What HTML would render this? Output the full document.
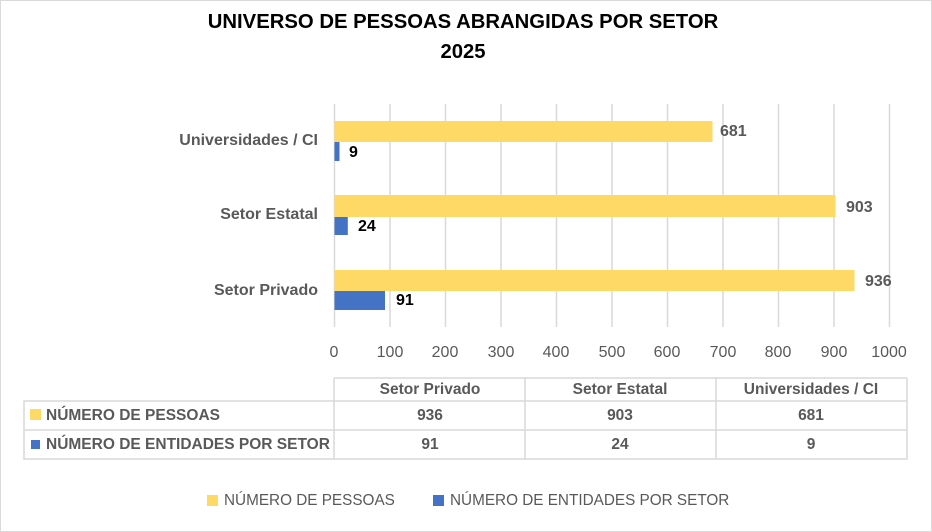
<!DOCTYPE html><html><head><meta charset="utf-8"><style>
body{margin:0;width:932px;height:532px;background:#fff;font-family:"Liberation Sans",sans-serif;position:relative;overflow:hidden}
.a{position:absolute;white-space:nowrap}
.b{font-weight:bold;color:#595959;font-size:15.5px}
.c{transform:translateX(-50%)}
</style></head><body>
<div class="a" style="left:0;top:0;width:930px;height:530px;border:1px solid #d9d9d9"></div>
<div class="a" style="left:0;width:926px;top:7px;text-align:center;font-weight:bold;font-size:20.3px;line-height:30px;color:#000">UNIVERSO DE PESSOAS ABRANGIDAS POR SETOR<br>2025</div>
<svg class="a" style="left:0;top:0" width="932" height="532">
<g stroke="#d9d9d9" stroke-width="1.5">
<line x1="334.5" y1="104" x2="334.5" y2="327"/><line x1="390" y1="104" x2="390" y2="327"/><line x1="445.5" y1="104" x2="445.5" y2="327"/><line x1="501" y1="104" x2="501" y2="327"/><line x1="556.5" y1="104" x2="556.5" y2="327"/><line x1="612" y1="104" x2="612" y2="327"/><line x1="667.5" y1="104" x2="667.5" y2="327"/><line x1="723" y1="104" x2="723" y2="327"/><line x1="778.5" y1="104" x2="778.5" y2="327"/><line x1="834" y1="104" x2="834" y2="327"/><line x1="889.5" y1="104" x2="889.5" y2="327"/>
</g>
<g fill="#ffd966"><rect x="334.5" y="121" width="378" height="21"/><rect x="334.5" y="195" width="501" height="22"/><rect x="334.5" y="270" width="520" height="21"/></g>
<g fill="#4472c4"><rect x="334.5" y="142" width="5" height="19"/><rect x="334.5" y="217" width="13.3" height="18"/><rect x="334.5" y="291" width="50.5" height="19"/></g>
<g stroke="#d9d9d9" stroke-width="1.5" fill="none">
<rect x="24" y="401" width="883" height="58"/><line x1="334" y1="378" x2="907" y2="378"/><line x1="334" y1="378" x2="334" y2="459"/><line x1="907" y1="378" x2="907" y2="401"/>
<line x1="525" y1="378" x2="525" y2="459"/><line x1="716" y1="378" x2="716" y2="459"/><line x1="24" y1="430" x2="907" y2="430"/>
</g>
<rect x="30" y="409" width="11" height="11" fill="#ffd966"/><rect x="31" y="440" width="9" height="9" fill="#4472c4"/>
<rect x="207" y="495" width="11" height="11" fill="#ffd966"/><rect x="433" y="495" width="11" height="11" fill="#4472c4"/>
</svg>
<div class="a b" style="right:614px;top:132px;font-size:16px">Universidades / CI</div>
<div class="a b" style="right:614px;top:206px;font-size:16px">Setor Estatal</div>
<div class="a b" style="right:614px;top:282px;font-size:16px">Setor Privado</div>
<div class="a b" style="left:720px;top:123px;font-size:16px">681</div>
<div class="a b" style="left:846px;top:199px;font-size:16px">903</div>
<div class="a b" style="left:865px;top:273px;font-size:16px">936</div>
<div class="a" style="left:349px;top:144px;font-weight:bold;font-size:16px;color:#000">9</div>
<div class="a" style="left:358px;top:218px;font-weight:bold;font-size:16px;color:#000">24</div>
<div class="a" style="left:396px;top:292px;font-weight:bold;font-size:16px;color:#000">91</div>
<div class="a" style="top:344px;font-size:16px;color:#595959;left:0;width:932px">
<span class="a c" style="left:334px">0</span><span class="a c" style="left:390px">100</span><span class="a c" style="left:445px">200</span><span class="a c" style="left:501px">300</span><span class="a c" style="left:556px">400</span><span class="a c" style="left:612px">500</span><span class="a c" style="left:667px">600</span><span class="a c" style="left:723px">700</span><span class="a c" style="left:778px">800</span><span class="a c" style="left:834px">900</span><span class="a c" style="left:889px">1000</span></div>
<div class="a b c" style="left:430px;top:381px">Setor Privado</div>
<div class="a b c" style="left:620px;top:381px">Setor Estatal</div>
<div class="a b c" style="left:811px;top:381px">Universidades / CI</div>
<div class="a b" style="left:46px;top:407px">NÚMERO DE PESSOAS</div>
<div class="a b" style="left:46px;top:436px">NÚMERO DE ENTIDADES POR SETOR</div>
<div class="a b c" style="left:430px;top:407px">936</div>
<div class="a b c" style="left:620px;top:407px">903</div>
<div class="a b c" style="left:811px;top:407px">681</div>
<div class="a b c" style="left:430px;top:436px">91</div>
<div class="a b c" style="left:620px;top:436px">24</div>
<div class="a b c" style="left:811px;top:436px">9</div>
<div class="a" style="left:224px;top:492px;font-size:15.3px;color:#595959">NÚMERO DE PESSOAS</div>
<div class="a" style="left:450px;top:492px;font-size:15.3px;color:#595959">NÚMERO DE ENTIDADES POR SETOR</div>
</body></html>
